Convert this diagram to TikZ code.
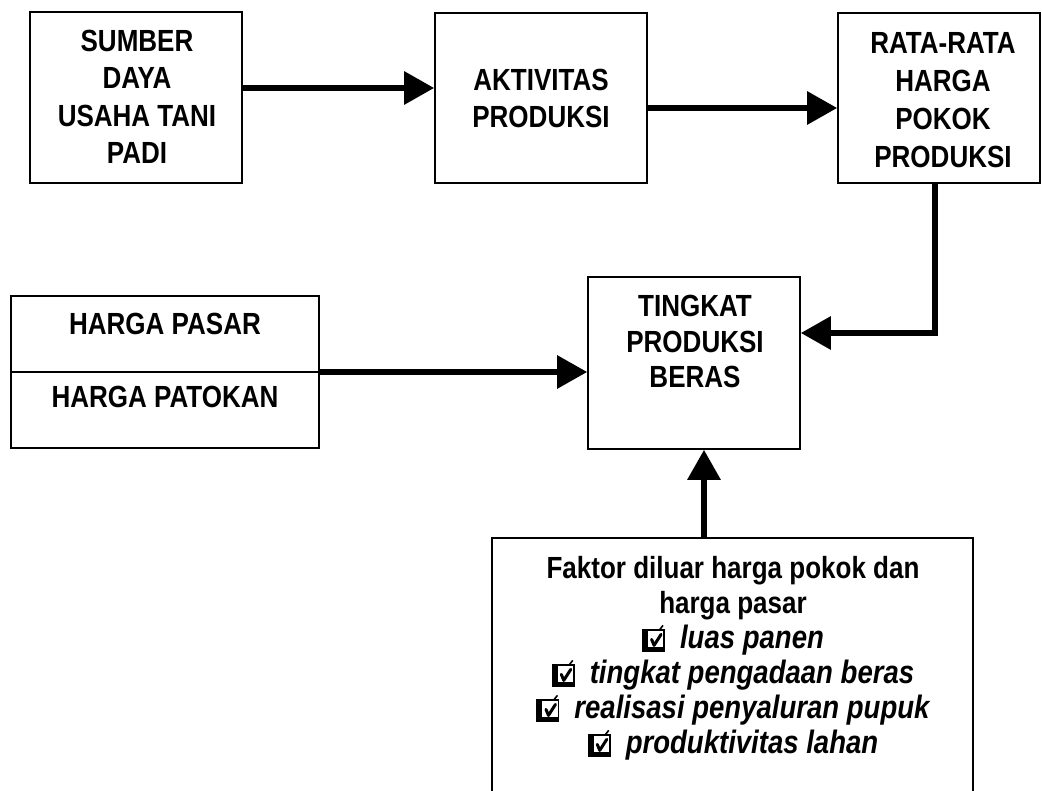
\documentclass[tikz,border=0pt]{standalone}
\usepackage{fontspec}
\setmainfont{Liberation Sans}[FakeStretch=0.85]
\usetikzlibrary{arrows.meta}
\newcommand{\cbox}{\tikz[baseline=4pt,x=1pt,y=1pt]{%
  \fill[black] (0,0) rectangle (6,23);
  \fill[black] (0,0) rectangle (23,5);
  \draw[line width=1.6pt] (0.8,0.8) rectangle (22.2,22.2);
  \draw[line width=3pt,line cap=round,line join=round] (9.5,13) -- (12,7) -- (19,18);
  \draw[line width=1.6pt] (17,22) -- (21,27);}}
\tikzset{
  box/.style={draw, line width=1.6pt, inner sep=0pt, fill=white},
  txt/.style={align=center, inner sep=0pt, font=\bfseries\fontsize{30.6}{37.5}\selectfont},
  arr/.style={line width=6pt, line join=miter, -{Triangle[length=30pt,width=32pt]}},
}
\newcommand{\itm}[1]{{\cbox\hspace{15pt}\itshape\fontsize{32.4}{36}\selectfont #1}}
\begin{document}
\begin{tikzpicture}[x=1pt,y=-1pt]
\path[use as bounding box] (0,0) rectangle (1042,791);
\clip (0,0) rectangle (1042,791);
\fill[white] (0,0) rectangle (1042,791);
% boxes
\node[box, minimum width=212pt, minimum height=171pt] (sd) at (136,97.5) {};
\node[box, minimum width=212pt, minimum height=170pt] (ak) at (541,98) {};
\node[box, minimum width=202pt, minimum height=170pt] (rr) at (939,98) {};
\node[box, minimum width=308pt, minimum height=152pt] (hg) at (165,372) {};
\node[box, minimum width=212pt, minimum height=172pt] (tp) at (694,363) {};
\node[box, minimum width=481pt, minimum height=290pt] (fk) at (732.5,683) {};
\draw[line width=1.6pt] (hg.west) -- (hg.east);
% texts
\node[txt, anchor=north, font=\bfseries\fontsize{30.6}{37.4}\selectfont] (tsd) at (137,30) {SUMBER\\DAYA\\USAHA TANI\\PADI};
\node[txt, anchor=north, font=\bfseries\fontsize{30.6}{37}\selectfont] (tak) at (541,69) {AKTIVITAS\\PRODUKSI};
\node[txt, anchor=north, font=\bfseries\fontsize{30.6}{38}\selectfont] (trr) at (943,32) {RATA-RATA\\HARGA\\POKOK\\PRODUKSI};
\node[txt, anchor=north] (thp) at (165,313) {HARGA PASAR};
\node[txt, anchor=north] (tht) at (165,386) {HARGA PATOKAN};
\node[txt, anchor=north, font=\bfseries\fontsize{30.6}{35.5}\selectfont] (ttp) at (695,295) {TINGKAT\\PRODUKSI\\BERAS};
\node[txt, anchor=north, font=\bfseries\fontsize{30.6}{35}\selectfont] (tfk) at (733,556)
  {Faktor diluar harga pokok dan\\
   harga pasar\\
   \itm{luas panen}\\
   \itm{tingkat pengadaan beras}\\
   \itm{realisasi penyaluran pupuk}\\
   \itm{produktivitas lahan}};
% connectors
\coordinate (y1) at (0,88);
\coordinate (y2) at (0,108);
\coordinate (bend) at (935,333);
\coordinate (xv) at (704,0);
\draw[arr] (sd.east |- y1) -- (ak.west |- y1);
\draw[arr] (ak.east |- y2) -- (rr.west |- y2);
\draw[arr] (rr.south -| bend) -- (bend) -- (tp.east |- bend);
\draw[arr] (hg.east) -- (tp.west |- hg.east);
\draw[arr] (fk.north -| xv) -- (tp.south -| xv);
\end{tikzpicture}
\end{document}
